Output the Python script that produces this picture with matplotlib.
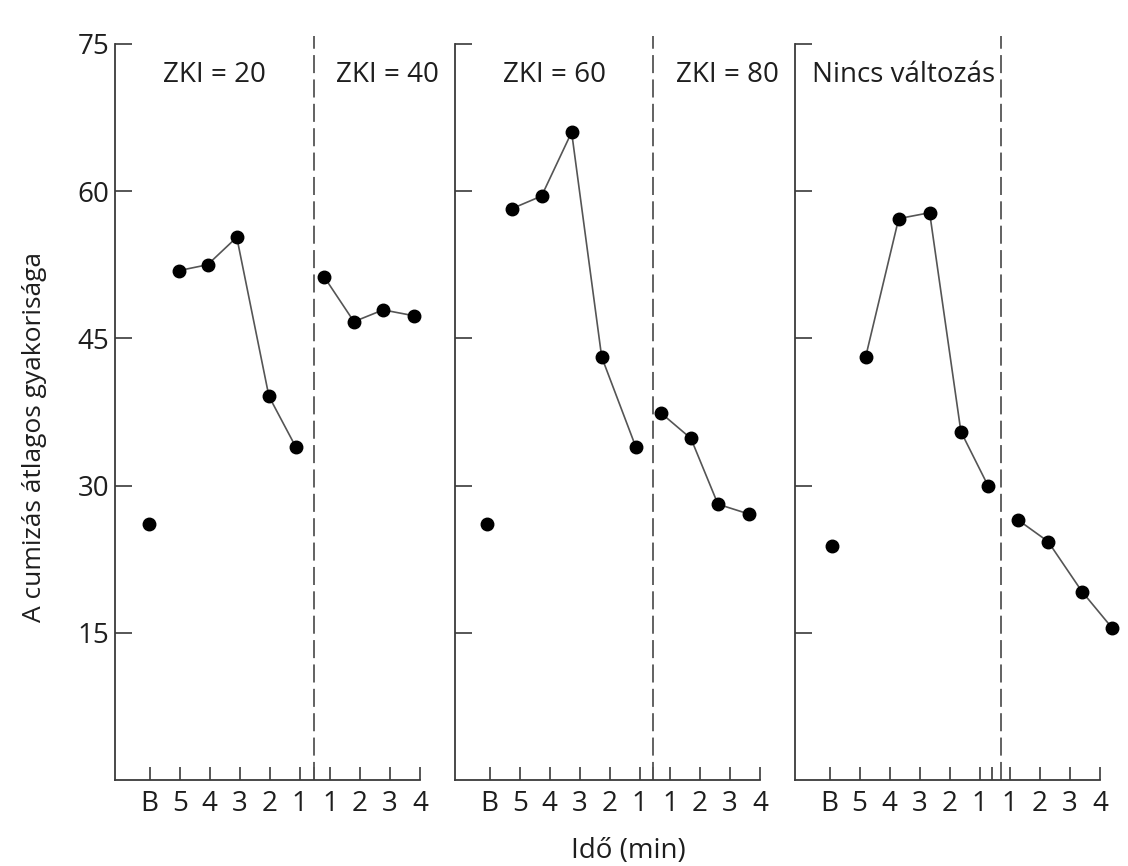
import matplotlib.pyplot as plt

plt.rcParams['font.family'] = ['Open Sans', 'DejaVu Sans']

# tick labels along each time axis (baseline, 5 min before ... 1 min, then 1..4 min after)
x_labels = ['B', '5', '4', '3', '2', '1', '1', '2', '3', '4']
y_ticks = [15, 30, 45, 60, 75]

titles_left = ['ZKI = 20', 'ZKI = 60', 'Nincs változás']
titles_right = ['ZKI = 40', 'ZKI = 80', '']

# baseline points
base_x = [-0.03, -0.07, 0.07]
base_y = [26.1, 26.1, 23.8]

# before the change
pre_x = [[0.97, 1.93, 2.9, 3.97, 4.87],
         [0.73, 1.73, 2.73, 3.73, 4.87],
         [1.2, 2.3, 3.33, 4.37, 5.27]]
pre_y = [[51.9, 52.5, 55.3, 39.1, 33.9],
         [58.2, 59.5, 66.0, 43.1, 33.9],
         [43.1, 57.2, 57.8, 35.5, 30.0]]

# after the change
post_x = [[5.8, 6.8, 7.77, 8.8],
          [5.7, 6.7, 7.6, 8.63],
          [6.27, 7.27, 8.4, 9.4]]
post_y = [[51.3, 46.7, 47.9, 47.3],
          [37.4, 34.8, 28.1, 27.1],
          [26.5, 24.3, 19.2, 15.5]]

divider_x = [5.47, 5.43, 5.72]
extra_tick = [5.47, 5.43, 5.42]

axis_color = '#3a3a3a'
line_color = '#555555'
text_color = '#1e1e1e'
fs = 20

fig = plt.figure(figsize=(11.28, 8.66), dpi=100)
lefts = [0.102, 0.4034, 0.7048]

for i in range(3):
    ax = fig.add_axes([lefts[i], 0.0993, 0.2704, 0.85])
    ax.set_xlim(-1.15, 9.0)
    ax.set_ylim(0, 75)
    for s in ['top', 'right']:
        ax.spines[s].set_visible(False)
    for s in ['left', 'bottom']:
        ax.spines[s].set_color(axis_color)
        ax.spines[s].set_linewidth(1.3)

    ax.set_xticks(list(range(10)))
    ax.set_xticklabels(x_labels)
    ax.set_xticks([extra_tick[i]], minor=True)
    ax.set_yticks(y_ticks)
    if i == 0:
        ax.set_yticklabels([str(v) for v in y_ticks])
    else:
        ax.set_yticklabels([])
    ax.tick_params(axis='y', direction='in', length=12, width=1.2,
                   color=axis_color, labelsize=fs, labelcolor=text_color, pad=4)
    ax.tick_params(axis='x', which='both', direction='in', length=9.5,
                   width=1.2, color=axis_color, labelsize=fs,
                   labelcolor=text_color, pad=7)

    ax.plot([divider_x[i], divider_x[i]], [0, 75.8], color=line_color,
            lw=1.3, linestyle=(0, (10, 3.5)), clip_on=False)

    ax.plot(base_x[i], base_y[i], 'o', color='black', ms=9, clip_on=False)
    ax.plot(pre_x[i], pre_y[i], '-o', color=line_color, lw=1.2,
            mfc='black', mec='black', ms=9, clip_on=False)
    ax.plot(post_x[i], post_y[i], '-o', color=line_color, lw=1.2,
            mfc='black', mec='black', ms=9, clip_on=False)

    if i < 2:
        ax.text(0.45, 71.1, titles_left[i], fontsize=fs, color=text_color,
                ha='left', va='baseline')
        ax.text(6.2, 71.1, titles_right[i], fontsize=fs, color=text_color,
                ha='left', va='baseline')
    else:
        ax.text(-0.6, 71.1, titles_left[i], fontsize=fs, color=text_color,
                ha='left', va='baseline')

fig.text(0.031, 0.495, 'A cumizás átlagos gyakorisága', rotation=90,
         fontsize=19, color=text_color, ha='center', va='center')
fig.text(0.557, 0.0173, 'Idő (min)', fontsize=fs, color=text_color,
         ha='center', va='center')

fig.savefig('out.png', dpi=100)
